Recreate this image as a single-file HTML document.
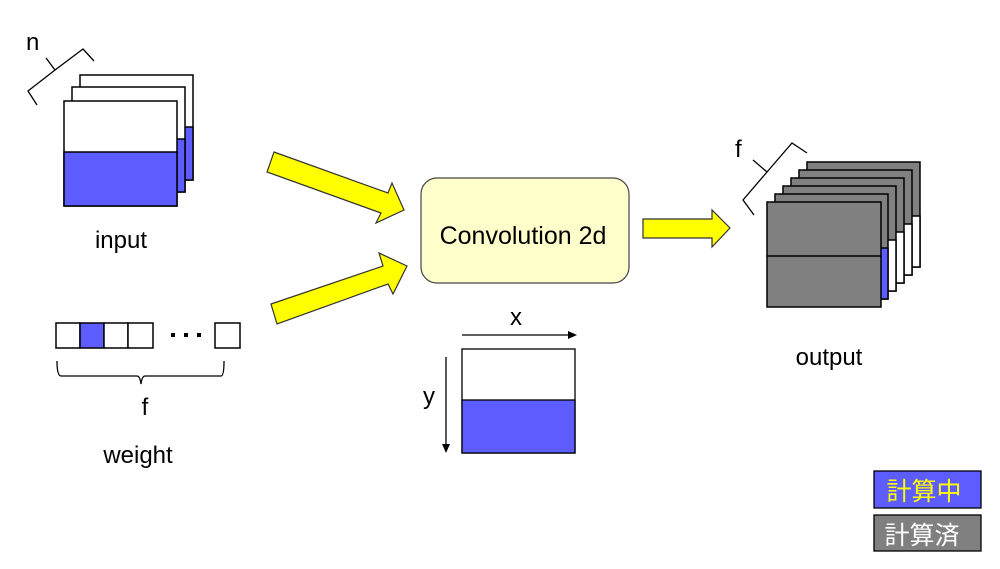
<!DOCTYPE html>
<html><head><meta charset="utf-8"><style>
body{margin:0;width:1000px;height:564px;background:#fff;overflow:hidden}
</style></head><body>
<svg width="1000" height="564" xmlns="http://www.w3.org/2000/svg" font-family="Liberation Sans, sans-serif">
<g stroke="#000" stroke-width="1.5">
<rect x="80" y="75" width="113" height="105" fill="#fff"/><rect x="80" y="127" width="113" height="53" fill="#5c5cff"/>
<rect x="72" y="87" width="113" height="105" fill="#fff"/><rect x="72" y="139" width="113" height="53" fill="#5c5cff"/>
<rect x="64" y="101" width="113" height="105" fill="#fff"/><rect x="64" y="152" width="113" height="54" fill="#5c5cff"/>
</g>
<path d="M37,105 L28,91 L55,70 L46,58 M55,70 L83,49 L94,61" fill="none" stroke="#000" stroke-width="1.3"/>
<text x="26" y="50" font-size="24">n</text>
<text x="121" y="248" font-size="24" text-anchor="middle">input</text>
<g stroke="#000" stroke-width="1.5" fill="#fff">
<rect x="56" y="323" width="24" height="25"/><rect x="80" y="323" width="24" height="25" fill="#5c5cff"/>
<rect x="104" y="323" width="24" height="25"/><rect x="128" y="323" width="25" height="25"/>
<rect x="215" y="323" width="25" height="25"/>
</g>
<g fill="#000"><rect x="171" y="333" width="4" height="4"/><rect x="184" y="333" width="4" height="4"/><rect x="197" y="333" width="4" height="4"/></g>
<path d="M57,361 Q57,376 61,376 L137,376 Q140,376 141,384 Q142,376 145,376 L221,376 Q224,376 224,361" fill="none" stroke="#000" stroke-width="1.3"/>
<text x="145" y="415" font-size="24" text-anchor="middle">f</text>
<text x="138" y="463" font-size="24" text-anchor="middle">weight</text>
<g fill="#ffff00" stroke="#333" stroke-width="1.2">
<polygon points="274,152 388,193 392,183 404,210 376,223 381,213 267,172"/>
<polygon points="271,304 383,266 379,253 407,266 393,294 388,284 277,324"/>
<polygon points="643,219 712,219 712,210 730,228 712,247 712,238 643,238"/>
</g>
<rect x="421" y="178" width="208" height="105" rx="16" fill="#ffffcc" stroke="#444" stroke-width="1.2"/>
<text x="523" y="244" font-size="25" text-anchor="middle">Convolution 2d</text>
<text x="516" y="325" font-size="24" text-anchor="middle">x</text>
<line x1="462" y1="335" x2="570" y2="335" stroke="#000" stroke-width="1.3"/>
<polygon points="577,335 568,331 568,339" fill="#000"/>
<text x="429" y="404" font-size="24" text-anchor="middle">y</text>
<line x1="446" y1="357" x2="446" y2="446" stroke="#000" stroke-width="1.3"/>
<polygon points="446,453 442,444 450,444" fill="#000"/>
<rect x="462" y="349" width="113" height="104" fill="#fff" stroke="#000" stroke-width="1.3"/>
<rect x="462" y="400" width="113" height="53" fill="#5c5cff" stroke="#000" stroke-width="1.3"/>
<g stroke="#000" stroke-width="1.5">
<rect x="807" y="162" width="113" height="105" fill="#808080"/><rect x="807" y="216" width="113" height="51" fill="#fff"/>
<rect x="799" y="170" width="113" height="105" fill="#808080"/><rect x="799" y="224" width="113" height="51" fill="#fff"/>
<rect x="791" y="178" width="113" height="105" fill="#808080"/><rect x="791" y="232" width="113" height="51" fill="#fff"/>
<rect x="783" y="186" width="113" height="105" fill="#808080"/><rect x="783" y="240" width="113" height="51" fill="#fff"/>
<rect x="775" y="194" width="113" height="105" fill="#808080"/><rect x="775" y="248" width="113" height="51" fill="#5c5cff"/>
<rect x="767" y="202" width="114" height="105" fill="#808080"/><line x1="767" y1="256" x2="881" y2="256"/>
</g>
<path d="M754,215 L743,200 L767,172 L753,160 M767,172 L792,143 L807,153" fill="none" stroke="#000" stroke-width="1.3"/>
<text x="735" y="157" font-size="24">f</text>
<text x="829" y="365" font-size="24" text-anchor="middle">output</text>
<rect x="874" y="471" width="107" height="37" fill="#5c5cff" stroke="#000" stroke-width="1.3"/>
<text x="924" y="500" font-size="25" fill="#ffff00" text-anchor="middle" font-family="Liberation Sans, Noto Sans CJK JP, sans-serif">計算中</text>
<rect x="874" y="515" width="107" height="36" fill="#808080" stroke="#000" stroke-width="1.3"/>
<text x="922" y="544" font-size="25" fill="#fff" text-anchor="middle" font-family="Liberation Sans, Noto Sans CJK JP, sans-serif">計算済</text>
</svg>
</body></html>
